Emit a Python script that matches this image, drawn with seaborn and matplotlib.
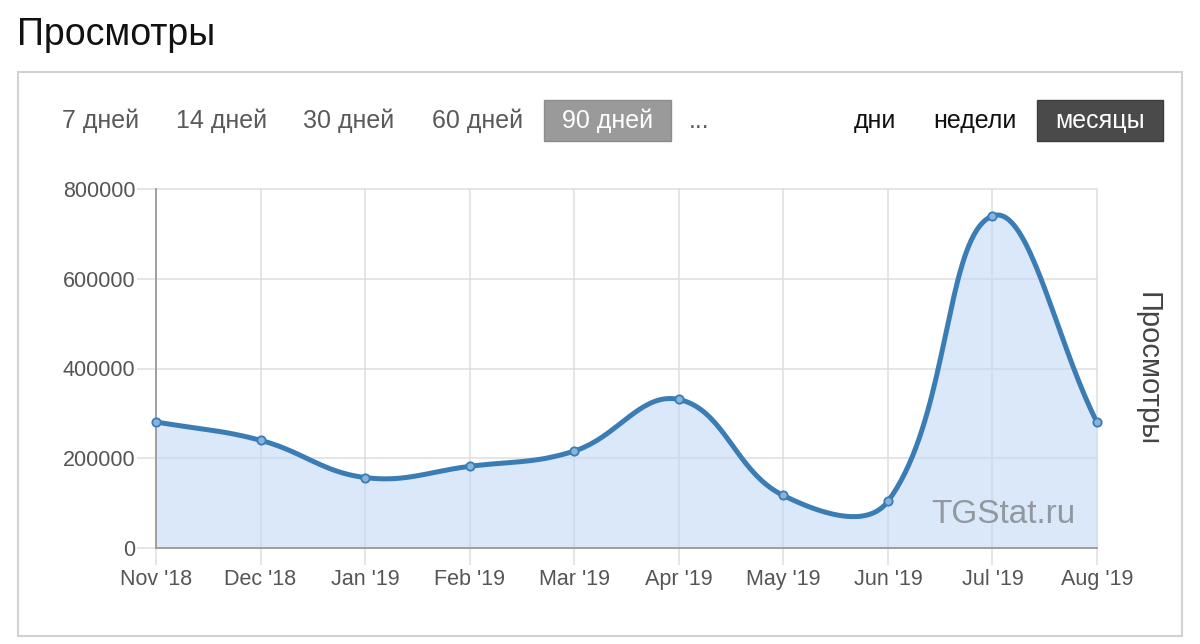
import numpy as np
import pandas as pd
import matplotlib
matplotlib.use("Agg")
import matplotlib.pyplot as plt
from matplotlib.patches import Rectangle
import seaborn as sns

# data
months = ["Nov '18", "Dec '18", "Jan '19", "Feb '19", "Mar '19",
          "Apr '19", "May '19", "Jun '19", "Jul '19", "Aug '19"]
views = [281000, 240000, 157000, 182000, 216000,
         331000, 117000, 104000, 740000, 280000]
y_ticks = [0, 200000, 400000, 600000, 800000]
periods = ["7 дней", "14 дней", "30 дней", "60 дней", "90 дней"]
units = ["дни", "недели", "месяцы"]

sns.set_theme(style="white")
plt.rcParams["font.family"] = ["Liberation Sans", "DejaVu Sans"]

W, H = 1200, 644
fig = plt.figure(figsize=(W / 100, H / 100), dpi=100)


def fx(px):
    return px / W


def fy(py):
    return 1 - py / H


# axes placement (pixels of the reference)
ax_l, ax_r, ax_t, ax_b = 156, 1097, 189, 548
ax = fig.add_axes([fx(ax_l), fy(ax_b), (ax_r - ax_l) / W, (ax_b - ax_t) / H])


# Chart.js-like cubic spline (tension 0.4), computed in pixel space
def spline(xv, yv, t=0.4, steps=40):
    sx = (ax_r - ax_l) / (len(xv) - 1)
    sy = (ax_b - ax_t) / y_ticks[-1]
    px = np.asarray(xv, float) * sx
    py = np.asarray(yv, float) * sy
    n = len(px)
    cprev, cnext = [], []
    for i in range(n):
        a = i - 1 if i > 0 else i
        b = i + 1 if i < n - 1 else i
        d01 = np.hypot(px[i] - px[a], py[i] - py[a])
        d12 = np.hypot(px[b] - px[i], py[b] - py[i])
        s = d01 + d12
        fa = t * (d01 / s if s else 0)
        fb = t * (d12 / s if s else 0)
        cprev.append((px[i] - fa * (px[b] - px[a]), py[i] - fa * (py[b] - py[a])))
        cnext.append((px[i] + fb * (px[b] - px[a]), py[i] + fb * (py[b] - py[a])))
    top = ax_b - ax_t
    out_x, out_y = [], []
    u = np.linspace(0, 1, steps)
    for i in range(n - 1):
        p0 = np.array([px[i], py[i]])
        p1 = np.array(cnext[i]); p1[1] = np.clip(p1[1], 0, top)
        p2 = np.array(cprev[i + 1]); p2[1] = np.clip(p2[1], 0, top)
        p3 = np.array([px[i + 1], py[i + 1]])
        seg = ((1 - u)[:, None] ** 3 * p0 + 3 * ((1 - u) ** 2 * u)[:, None] * p1
               + 3 * ((1 - u) * u ** 2)[:, None] * p2 + (u ** 3)[:, None] * p3)
        if i > 0:
            seg = seg[1:]
        out_x.extend(seg[:, 0] / sx)
        out_y.extend(seg[:, 1] / sy)
    return np.array(out_x), np.array(out_y)


xi = np.arange(len(months))
cx, cy = spline(xi, views)
curve = pd.DataFrame({"x": cx, "y": cy})
points = pd.DataFrame({"x": xi, "y": views})

line_col = "#3a7db5"
ax.fill_between(cx, 0, cy, color="#c4d9f5", alpha=0.6, lw=0, zorder=1)
sns.lineplot(data=curve, x="x", y="y", sort=False, estimator=None, ax=ax,
             color=line_col, lw=3.6, zorder=3)
sns.scatterplot(data=points, x="x", y="y", ax=ax, s=36, color="#86b4de",
                edgecolor=line_col, linewidth=1.3, zorder=4, clip_on=False)

ax.set_xlim(0, len(months) - 1)
ax.set_ylim(0, y_ticks[-1])
ax.set_xticks(xi)
ax.set_xticklabels(months)
ax.set_yticks(y_ticks)
ax.set_yticklabels([str(v) for v in y_ticks])
ax.set_xlabel("")
ax.set_ylabel("")
ax.set_axisbelow(True)
ax.grid(True, color="#dedede", lw=1.1)
for g in ax.get_xgridlines() + ax.get_ygridlines():
    g.set_clip_on(False)
ax.tick_params(axis="y", length=14, width=1.1, color="#dedede", pad=1,
               labelsize=15.5, labelcolor="#555555", left=True)
ax.tick_params(axis="x", length=12, width=1.1, color="#dedede", pad=3,
               labelsize=15.5, labelcolor="#555555", bottom=True)
for side in ["top", "right"]:
    ax.spines[side].set_visible(False)
for side in ["left", "bottom"]:
    ax.spines[side].set_color("#9a9a9a")
    ax.spines[side].set_linewidth(1.3)
    ax.spines[side].set_zorder(2)

ax.text(0.977, 0.07, "TGStat.ru", transform=ax.transAxes, ha="right",
        va="baseline", fontsize=24, color="#8a8f96", alpha=0.9, zorder=2)

# right axis title
fig.text(fx(1148), fy(369), "Просмотры", rotation=-90, ha="center",
         va="center", fontsize=21, color="#444444")

# page title and frame
fig.text(fx(17), fy(45), "Просмотры", fontsize=27, color="#111111",
         ha="left", va="baseline")
fig.add_artist(Rectangle((fx(18), fy(636)), (1182 - 18) / W, (636 - 72) / H,
                         transform=fig.transFigure, fill=False,
                         edgecolor="#d2d2d2", lw=1.5))

# period buttons
btn_y = fy(128)
btn_fs = 18
period_x = [62, 176, 303, 432]
for label, px in zip(periods[:4], period_x):
    fig.text(fx(px), btn_y, label, fontsize=btn_fs, color="#5a5a5a",
             ha="left", va="baseline")
fig.add_artist(Rectangle((fx(544), fy(141)), 127 / W, 41 / H,
                         transform=fig.transFigure, facecolor="#9a9a9a",
                         edgecolor="#8c8c8c", lw=1))
fig.text(fx(607.5), btn_y, periods[4], fontsize=btn_fs, color="white",
         ha="center", va="baseline")
fig.text(fx(689), btn_y, "...", fontsize=btn_fs, color="#5a5a5a",
         ha="left", va="baseline")

# unit buttons
fig.text(fx(854), btn_y, units[0], fontsize=btn_fs, color="#111111",
         ha="left", va="baseline")
fig.text(fx(933), btn_y, units[1], fontsize=btn_fs, color="#111111",
         ha="left", va="baseline")
fig.add_artist(Rectangle((fx(1037), fy(141)), 126 / W, 41 / H,
                         transform=fig.transFigure, facecolor="#4a4a4a",
                         edgecolor="#3c3c3c", lw=1))
fig.text(fx(1100), btn_y, units[2], fontsize=btn_fs, color="white",
         ha="center", va="baseline")

fig.savefig("out.png", dpi=100, facecolor="white")
